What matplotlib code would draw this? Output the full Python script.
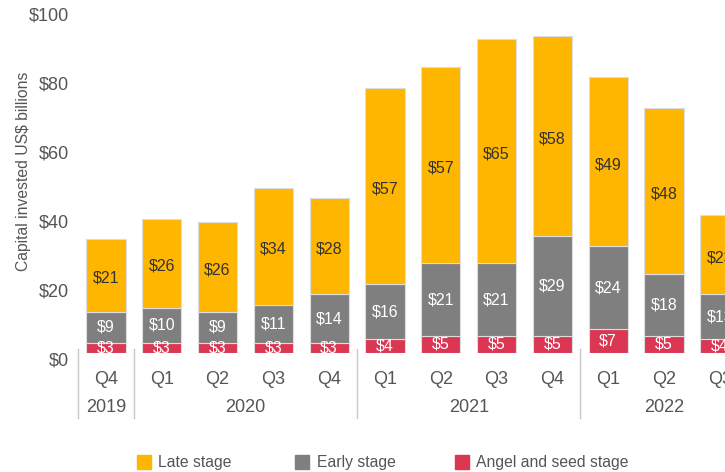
import matplotlib
matplotlib.use("Agg")
import matplotlib.pyplot as plt
from matplotlib.patches import Rectangle
from matplotlib.transforms import ScaledTranslation
import numpy as np

plt.rcParams['font.family'] = ['Liberation Sans', 'DejaVu Sans']

quarters = ["Q4", "Q1", "Q2", "Q3", "Q4", "Q1", "Q2", "Q3", "Q4", "Q1", "Q2", "Q3"]
years = ["2019", "2020", "2021", "2022"]
year_spans = [(0, 0), (1, 4), (5, 8), (9, 11)]
angel_seed = [3, 3, 3, 3, 3, 4, 5, 5, 5, 7, 5, 4]
early = [9, 10, 9, 11, 14, 16, 21, 21, 29, 24, 18, 13]
late = [21, 26, 26, 34, 28, 57, 57, 65, 58, 49, 48, 23]
series_names = ["Late stage", "Early stage", "Angel and seed stage"]
yticks = [0, 20, 40, 60, 80, 100]

C_LATE = "#FFB600"
C_EARLY = "#7F7F7F"
C_ANGEL = "#DB3652"
TXT = "#555555"

W, H = 725, 472
fig = plt.figure(figsize=(7.25, 4.72), dpi=100)
# axes spans past the right edge so the last quarter is cut off
ax_w_px = 13 * 55.8
ax_l_px = 78.1
ax = fig.add_axes([ax_l_px / W, 1 - 353 / H, ax_w_px / W, 344.6 / H])

x = np.arange(len(quarters))
angel_a = np.array(angel_seed)
early_a = np.array(early)
late_a = np.array(late)
bw = 0.70
edge = dict(edgecolor="#dddddd", linewidth=0.8)
ax.bar(x, angel_a, bw, color=C_ANGEL, **edge)
ax.bar(x, early_a, bw, bottom=angel_a, color=C_EARLY, **edge)
ax.bar(x, late_a, bw, bottom=angel_a + early_a, color=C_LATE, **edge)

for i in x:
    ax.text(i, angel_a[i] / 2, f"${angel_a[i]}", ha="center", va="center",
            color="white", fontsize=11.5, clip_on=True)
    ax.text(i, angel_a[i] + early_a[i] / 2, f"${early_a[i]}", ha="center",
            va="center", color="white", fontsize=11.5, clip_on=True)
    ax.text(i, angel_a[i] + early_a[i] + late_a[i] / 2 - 0.8, f"${late_a[i]}",
            ha="center", va="center", color="#333333", fontsize=11.5, clip_on=True)

ax.set_xlim(-0.5, 12.5)
ax.set_ylim(0, 100)
ax.set_yticks(yticks)
ax.set_yticklabels([f"${v}" for v in yticks])
ax.tick_params(axis="y", length=0, pad=6.5, labelsize=13, labelcolor=TXT)
shift = ScaledTranslation(0, -6 / 100, fig.dpi_scale_trans)
for lab in ax.get_yticklabels():
    lab.set_transform(lab.get_transform() + shift)
ax.set_xticks([])
for s in ax.spines.values():
    s.set_visible(False)

ax.set_ylabel("Capital invested US$ billions", fontsize=11.3, color=TXT)
ax.yaxis.set_label_coords((31 - ax_l_px) / ax_w_px, 0.528)

# quarter and year labels beneath the bars
for i, q in enumerate(quarters):
    ax.text(i, -7.8, q, ha="center", va="center", fontsize=13, color=TXT,
            clip_on=False)
for yr, (a, b) in zip(years, year_spans):
    ax.text((a + b) / 2, -15.7, yr, ha="center", va="center", fontsize=13,
            color=TXT, clip_on=False)

# group separators
for sx in [-0.5, 0.5, 4.5, 8.5]:
    ax.plot([sx, sx], [1.2, -18.9], color="#c8c8c8", lw=1.0, clip_on=False)

# legend
for name, col, sqx, tx in zip(series_names, [C_LATE, C_EARLY, C_ANGEL],
                              [137, 295, 455], [158, 317, 476]):
    fig.add_artist(Rectangle((sqx / W, 1 - 469 / H), 14 / W, 14 / H,
                             transform=fig.transFigure, color=col))
    fig.text(tx / W, 1 - 462 / H, name, ha="left", va="center",
             fontsize=11.3, color=TXT)

fig.savefig("out.png", dpi=100)
